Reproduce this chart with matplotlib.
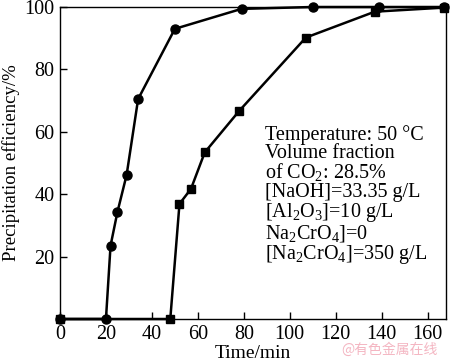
import matplotlib
matplotlib.use("Agg")
import matplotlib.pyplot as plt

time_circle = [0, 20, 22, 25, 29, 34, 50, 79, 110, 139, 167]
eff_circle = [0, 0, 23.5, 34.3, 46.2, 70.5, 93, 99.4, 100, 100, 100]
time_square = [0, 48, 52, 57, 63, 78, 107, 137, 167]
eff_square = [0, 0, 36.9, 41.7, 53.4, 66.7, 90.2, 98.5, 99.8]
xticks = [0, 20, 40, 60, 80, 100, 120, 140, 160]
yticks = [20, 40, 60, 80, 100]

plt.rcParams['font.family'] = ['Liberation Serif', 'DejaVu Serif']
plt.rcParams['mathtext.fontset'] = 'custom'
plt.rcParams['mathtext.rm'] = 'Liberation Serif'
fig = plt.figure(figsize=(4.5, 3.63), dpi=100)
ax = fig.add_axes([60/450, 1-319/363, 386/450, 312/363])

ax.plot(time_circle, eff_circle, color='black', lw=1.8, marker='o', ms=6.5, clip_on=False, zorder=3)
ax.plot(time_square, eff_square, color='black', lw=1.8, marker='s', ms=5.5, clip_on=False, zorder=3)

ax.set_xlim(0, 168)
ax.set_ylim(0, 100)
ax.set_xticks(xticks)
ax.set_yticks(yticks)
ax.tick_params(direction='in', length=5, width=1, labelsize=14.5, pad=4)
for s in ax.spines.values():
    s.set_linewidth(1)
ax.set_xlabel('Time/min', fontsize=14, labelpad=1)
ax.set_ylabel('Precipitation efficiency/%', fontsize=13.5, labelpad=3)

txt = ('Temperature: 50 °C\nVolume fraction\nof CO$_2$: 28.5%\n[NaOH]=33.35 g/L\n'
       '[Al$_2$O$_3$]=10 g/L\nNa$_2$CrO$_4$]=0\n[Na$_2$CrO$_4$]=350 g/L')
fig.text(265/450, 1-125/363, txt, fontsize=14.5, va='top', ha='left',
         linespacing=0.93)
fig.text(438/450, 1-350/363, '@有色金属在线', fontsize=10, color='#f4b6c2',
         ha='right', va='center', family=['Noto Sans CJK SC', 'DejaVu Sans'])

fig.savefig('out.png', dpi=100)
